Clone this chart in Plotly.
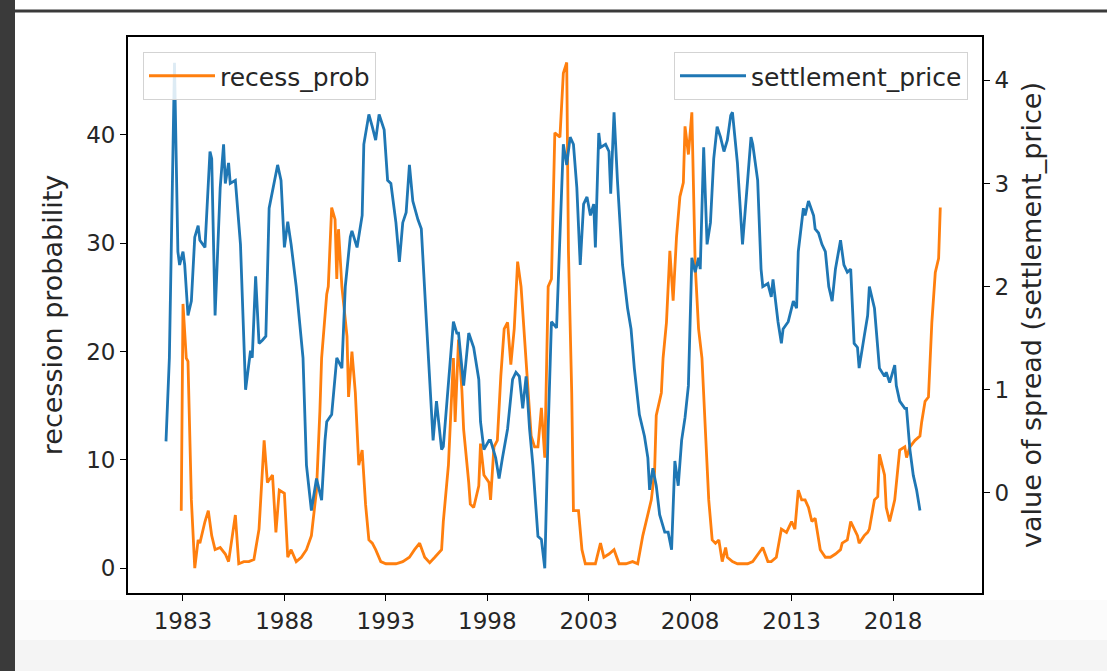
import plotly.graph_objects as go

# settlement_price (right axis)
blue_dates = ["1982-03","1982-05","1982-08","1982-10","1982-11","1983-01","1983-02","1983-04","1983-06","1983-08","1983-10","1983-11","1984-02","1984-05","1984-06","1984-08","1984-11","1985-01","1985-02","1985-04","1985-05","1985-08","1985-11","1985-12","1986-02","1986-05","1986-06","1986-08","1986-10","1986-12","1987-02","1987-04","1987-09","1987-11","1988-01","1988-03","1988-05","1988-08","1988-12","1989-02","1989-05","1989-08","1989-11","1990-01","1990-02","1990-05","1990-07","1990-08","1990-11","1991-01","1991-04","1991-05","1991-08","1991-11","1991-12","1992-03","1992-05","1992-07","1992-09","1992-12","1993-02","1993-04","1993-07","1993-09","1993-11","1994-01","1994-03","1994-05","1994-08","1994-10","1995-01","1995-03","1995-05","1995-07","1995-10","1995-11","1996-02","1996-05","1996-07","1996-08","1996-11","1997-01","1997-02","1997-05","1997-08","1997-09","1997-11","1998-02","1998-03","1998-06","1998-08","1998-10","1999-01","1999-04","1999-06","1999-08","1999-10","1999-12","2000-02","2000-04","2000-07","2000-09","2000-11","2001-01","2001-03","2001-06","2001-08","2001-10","2001-12","2002-02","2002-04","2002-06","2002-08","2002-10","2002-12","2003-02","2003-04","2003-05","2003-07","2003-08","2003-11","2004-01","2004-02","2004-04","2004-06","2004-09","2004-12","2005-02","2005-04","2005-07","2005-10","2005-12","2006-01","2006-03","2006-05","2006-07","2006-10","2006-12","2007-02","2007-04","2007-06","2007-08","2007-10","2007-12","2008-02","2008-04","2008-06","2008-07","2008-09","2008-11","2009-01","2009-03","2009-05","2009-07","2009-09","2009-11","2010-01","2010-02","2010-05","2010-07","2010-08","2010-11","2011-01","2011-02","2011-05","2011-07","2011-08","2011-11","2012-01","2012-02","2012-05","2012-07","2012-08","2012-11","2013-02","2013-04","2013-05","2013-08","2013-09","2013-11","2014-02","2014-03","2014-05","2014-07","2014-09","2014-11","2015-01","2015-03","2015-06","2015-08","2015-10","2015-12","2016-02","2016-04","2016-05","2016-08","2016-10","2016-11","2017-02","2017-05","2017-08","2017-09","2017-11","2018-02","2018-03","2018-05","2018-08","2018-09","2018-11","2019-01","2019-03","2019-05"]
blue_vals = [0.50,1.31,4.17,2.34,2.21,2.34,2.21,1.72,1.86,2.48,2.59,2.45,2.38,3.31,3.24,1.72,2.96,3.38,3.0,3.2,3.0,3.03,2.41,1.9,1.0,1.38,1.31,2.1,1.45,1.48,1.52,2.76,3.18,3.03,2.38,2.63,2.41,2.0,1.31,0.27,-0.17,0.14,-0.07,0.51,0.69,0.76,1.13,1.31,1.21,2.0,2.48,2.54,2.38,2.69,3.38,3.67,3.55,3.42,3.67,3.52,3.03,3.0,2.62,2.24,2.62,2.72,3.18,2.83,2.65,2.56,1.66,1.13,0.51,0.89,0.42,0.45,1.07,1.66,1.55,1.55,1.04,1.41,1.55,1.41,1.1,0.69,0.42,0.51,0.51,0.34,0.14,0.34,0.62,1.1,1.17,1.13,0.82,1.13,0.62,0.27,-0.42,-0.45,-0.73,0.62,1.66,1.6,2.52,3.38,3.18,3.45,3.38,2.96,2.21,2.8,2.87,2.69,2.8,2.38,3.49,3.35,3.38,3.31,2.9,3.69,3.03,2.21,1.79,1.59,1.21,0.76,0.55,0.34,0.03,0.24,0.07,-0.21,-0.38,-0.38,-0.55,0.31,0.07,0.51,0.73,1.04,2.28,2.14,2.28,2.17,3.35,2.41,2.62,3.24,3.55,3.45,3.31,3.42,3.66,3.69,3.2,2.62,2.41,3.03,3.45,3.38,3.03,2.17,2.0,2.03,1.9,2.07,1.66,1.45,1.59,1.66,1.86,1.79,2.34,2.76,2.69,2.83,2.69,2.56,2.52,2.41,2.34,2.0,1.86,2.17,2.45,2.21,2.14,2.17,1.45,1.41,1.21,1.52,1.72,2.0,1.79,1.21,1.13,1.17,1.07,1.24,1.04,0.89,0.82,0.82,0.42,0.17,0.03,-0.17]

# recess_prob (left axis)
orange_dates = ["1982-12","1983-01","1983-03","1983-04","1983-06","1983-08","1983-10","1983-11","1984-02","1984-04","1984-06","1984-08","1984-11","1985-02","1985-04","1985-06","1985-08","1985-10","1986-01","1986-04","1986-07","1986-10","1987-01","1987-03","1987-06","1987-08","1987-10","1988-01","1988-03","1988-05","1988-08","1988-11","1989-02","1989-05","1989-08","1989-10","1989-11","1990-02","1990-03","1990-05","1990-07","1990-08","1990-09","1990-11","1991-02","1991-03","1991-05","1991-07","1991-09","1991-11","1992-01","1992-03","1992-05","1992-07","1992-10","1993-01","1993-04","1993-07","1993-11","1994-03","1994-06","1994-09","1994-12","1995-03","1995-06","1995-10","1995-11","1996-02","1996-04","1996-05","1996-06","1996-08","1996-10","1996-11","1997-02","1997-03","1997-05","1997-08","1997-09","1997-11","1998-02","1998-03","1998-05","1998-07","1998-09","1998-11","1999-01","1999-03","1999-05","1999-07","1999-09","1999-11","2000-01","2000-03","2000-05","2000-07","2000-09","2000-11","2001-01","2001-03","2001-05","2001-08","2001-10","2001-12","2002-01","2002-03","2002-04","2002-07","2002-09","2002-11","2003-02","2003-05","2003-08","2003-10","2004-01","2004-04","2004-07","2004-11","2005-03","2005-06","2005-09","2005-12","2006-02","2006-04","2006-05","2006-08","2006-09","2006-11","2007-01","2007-03","2007-05","2007-07","2007-09","2007-10","2007-12","2008-02","2008-04","2008-06","2008-08","2008-10","2008-12","2009-02","2009-04","2009-06","2009-08","2009-10","2009-11","2010-02","2010-05","2010-08","2010-11","2011-02","2011-05","2011-08","2011-11","2012-01","2012-04","2012-07","2012-10","2013-01","2013-03","2013-05","2013-07","2013-09","2013-11","2014-01","2014-03","2014-06","2014-09","2014-12","2015-03","2015-06","2015-07","2015-10","2015-12","2016-02","2016-04","2016-05","2016-08","2016-10","2016-11","2017-02","2017-04","2017-05","2017-08","2017-09","2017-11","2018-02","2018-03","2018-05","2018-08","2018-09","2018-11","2019-02","2019-05","2019-06","2019-08","2019-10","2019-12","2020-02","2020-04","2020-05"]
orange_vals = [5.3,24.4,19.4,19.1,6.3,0.0,2.6,2.3,4.3,5.3,3.0,1.7,1.9,1.3,0.6,3.0,4.9,0.4,0.6,0.6,0.8,3.6,11.8,7.9,8.6,3.3,7.2,6.9,1.0,1.7,0.6,1.0,1.7,3.0,7.2,14.5,19.4,25.3,26.0,33.3,32.2,26.7,31.3,26.0,21.4,15.8,20.0,16.2,9.5,10.9,5.9,2.6,2.3,1.7,0.6,0.4,0.4,0.4,0.6,1.0,1.7,2.3,1.0,0.5,1.0,1.7,4.3,9.5,16.2,19.4,13.5,21.1,16.4,12.8,7.9,5.9,5.6,7.6,11.5,8.6,7.9,6.3,11.2,11.8,17.7,22.1,22.7,18.8,22.1,28.3,26.0,21.4,16.8,12.2,11.2,11.2,14.8,10.2,26.0,26.7,40.2,39.8,45.7,46.7,29.3,16.2,5.3,5.3,1.7,0.4,0.4,0.4,2.3,1.0,1.3,1.7,0.4,0.4,0.6,0.4,3.0,4.9,6.3,8.9,14.1,16.2,19.4,22.7,29.3,24.7,30.6,34.3,35.6,40.8,38.2,42.1,28.0,22.1,19.4,12.8,6.3,2.6,2.3,2.6,0.6,1.9,1.0,0.6,0.4,0.4,0.4,0.6,1.3,1.9,0.6,0.6,1.0,3.6,3.3,4.3,3.6,7.2,6.3,6.3,5.6,4.3,4.6,1.7,1.0,1.0,1.3,1.7,2.3,2.6,4.3,3.6,3.0,2.3,3.0,3.3,3.6,6.3,6.6,10.5,8.6,5.6,4.3,6.3,7.9,10.9,11.2,10.2,11.2,11.8,12.2,13.5,15.4,15.8,22.7,27.3,28.6,33.3]

assert len(blue_dates) == len(blue_vals), (len(blue_dates), len(blue_vals))
assert len(orange_dates) == len(orange_vals), (len(orange_dates), len(orange_vals))

x_tick_years = ["1983", "1988", "1993", "1998", "2003", "2008", "2013", "2018"]
left_ticks = [0, 10, 20, 30, 40]
right_ticks = [0, 1, 2, 3, 4]

W, H = 1107, 671
L, R, T, B = 128, 982, 37, 593
pw, ph = R - L, B - T

def px(x):
    return (x - L) / pw

def py(y):
    return (B - y) / ph

FONT = "DejaVu Sans"
TXT = "#262626"
FS = 23       # tick labels
FS_LEG = 25   # legend text
FS_TITLE = 27 # rotated axis titles

fig = go.Figure()
fig.add_trace(go.Scatter(x=orange_dates, y=orange_vals, mode="lines", name="recess_prob",
                         line=dict(color="#ff7f0e", width=2.8), yaxis="y", legend="legend"))
fig.add_trace(go.Scatter(x=blue_dates, y=blue_vals, mode="lines", name="settlement_price",
                         line=dict(color="#1f77b4", width=2.8), yaxis="y2", legend="legend2"))

shapes = [
    dict(type="rect", xref="paper", yref="paper", x0=px(15), x1=px(W), y0=py(600), y1=py(640),
         fillcolor="#fbfbfb", line=dict(width=0), layer="below"),
    dict(type="rect", xref="paper", yref="paper", x0=px(15), x1=px(W), y0=py(640), y1=py(H),
         fillcolor="#f4f4f4", line=dict(width=0), layer="below"),
    dict(type="rect", xref="paper", yref="paper", x0=px(0), x1=px(15), y0=py(H), y1=py(0),
         fillcolor="#3a3a3a", line=dict(width=0), layer="below"),
    dict(type="rect", xref="paper", yref="paper", x0=px(15), x1=px(W), y0=py(12.5), y1=py(9.5),
         fillcolor="#3a3a3a", line=dict(width=0), layer="below"),
]

axis_common = dict(ticks="outside", ticklen=6, tickwidth=1.3, tickcolor="black",
                   showline=True, linecolor="black", linewidth=1.8,
                   showgrid=False, zeroline=False, tickfont=dict(size=FS, color=TXT))

legend_common = dict(yanchor="top", bgcolor="rgba(255,255,255,0.85)", bordercolor="#d3d3d3",
                     borderwidth=1, font=dict(size=FS_LEG, color=TXT), itemwidth=66)

fig.update_layout(
    width=W, height=H,
    margin=dict(l=L, r=W - R, t=T, b=H - B, pad=0),
    paper_bgcolor="white", plot_bgcolor="white",
    font=dict(family=FONT, size=FS, color=TXT),
    shapes=shapes,
    xaxis=dict(
        type="date",
        range=["1980-04-16", "2022-05-22"],
        tickvals=[y + "-01-01" for y in x_tick_years], ticktext=x_tick_years,
        mirror=True, **axis_common,
    ),
    yaxis=dict(
        range=[-2.3, 49.05], tickvals=left_ticks,
        title=dict(text="recession probability", font=dict(size=FS_TITLE, color=TXT), standoff=16),
        **axis_common,
    ),
    yaxis2=dict(
        range=[-0.97, 4.42], tickvals=right_ticks, overlaying="y", side="right",
        title=dict(text="value of spread (settlement_price)", font=dict(size=FS_TITLE, color=TXT), standoff=14),
        **axis_common,
    ),
    legend=dict(x=px(143), y=py(52), xanchor="left", **legend_common),
    legend2=dict(x=px(968), y=py(52), xanchor="right", **legend_common),
    showlegend=True,
)

fig.write_html("out.html", config={"displayModeBar": False},
               post_script="document.body.style.margin='0';document.body.style.overflow='hidden';")
